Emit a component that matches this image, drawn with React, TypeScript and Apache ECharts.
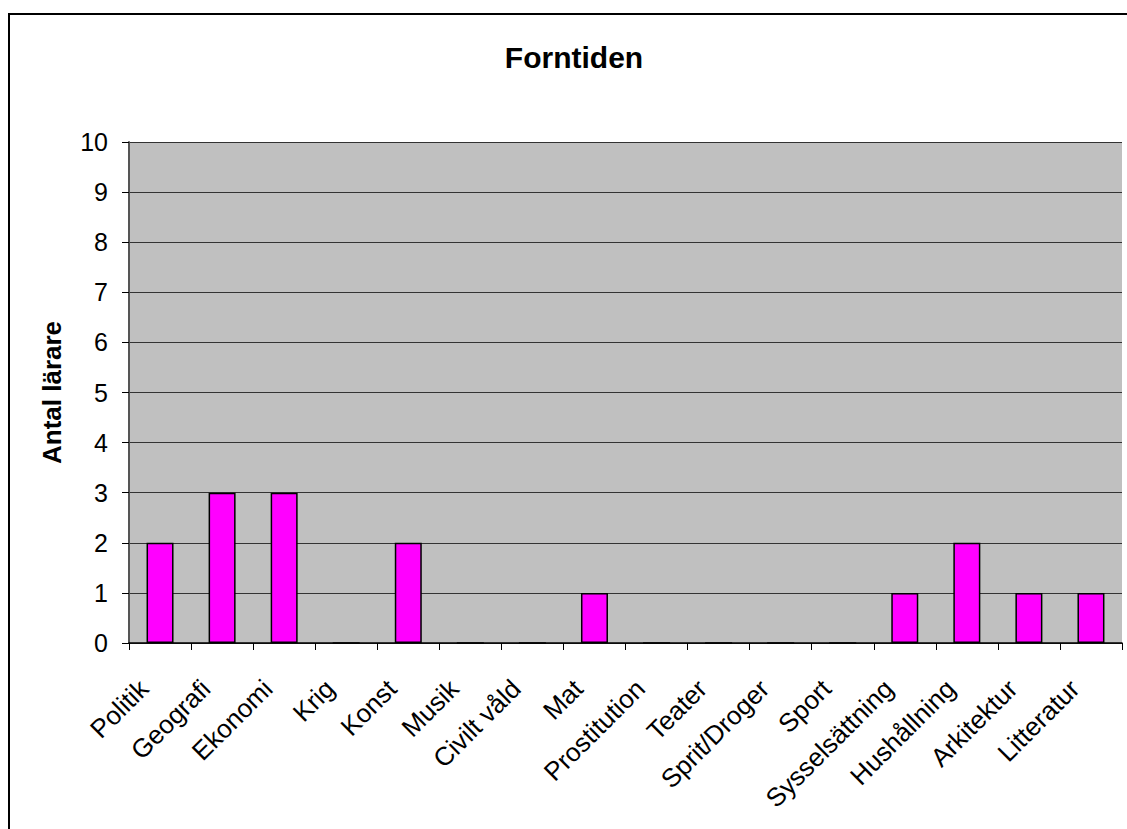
import React, { useEffect, useRef } from "react";
import * as echarts from "echarts";

const titleText = "Forntiden";
const yAxisName = "Antal lärare";
const categories = [
  "Politik", "Geografi", "Ekonomi", "Krig", "Konst", "Musik", "Civilt våld", "Mat",
  "Prostitution", "Teater", "Sprit/Droger", "Sport", "Sysselsättning", "Hushållning",
  "Arkitektur", "Litteratur",
];
const values = [2, 3, 3, 0, 2, 0, 0, 1, 0, 0, 0, 0, 1, 2, 1, 1];
const yMin = 0;
const yMax = 10;
const yStep = 1;

export default function App() {
  const ref = useRef<HTMLDivElement>(null);
  useEffect(() => {
    if (!ref.current) return;
    const chart = echarts.init(ref.current, null, { renderer: "svg" });
    const font = "'Liberation Sans', Arial, sans-serif";
    chart.setOption({
      animation: false,
      textStyle: { fontFamily: font },
      title: {
        text: titleText,
        left: 569,
        textAlign: "center",
        top: 37,
        textStyle: { fontFamily: font, fontSize: 30, fontWeight: "bold", color: "#000" },
      },
      grid: { left: 129, top: 142, right: 5, bottom: 186, show: true, backgroundColor: "#c0c0c0", borderWidth: 0 },
      xAxis: {
        type: "category",
        data: categories,
        axisLine: { lineStyle: { color: "#000", width: 1.5 } },
        axisTick: { show: true, length: 7, lineStyle: { color: "#000" }, alignWithLabel: false },
        axisLabel: {
          rotate: 45,
          margin: 25,
          padding: [0, 23, 0, 0],
          fontSize: 26,
          color: "#000",
          fontFamily: font,
          interval: 0,
        },
        splitLine: { show: false },
      },
      yAxis: {
        type: "value",
        min: yMin,
        max: yMax,
        interval: yStep,
        name: yAxisName,
        nameLocation: "middle",
        nameGap: 64,
        nameTextStyle: { fontSize: 26, fontWeight: "bold", color: "#000", fontFamily: font },
        axisLine: { show: true, lineStyle: { color: "#555", width: 2 } },
        axisTick: { show: true, length: 7, lineStyle: { color: "#000" } },
        axisLabel: { fontSize: 25, color: "#000", margin: 21, fontFamily: font },
        splitLine: { show: true, lineStyle: { color: "#333", width: 1 } },
      },
      series: [
        {
          type: "bar",
          data: values,
          barWidth: 27,
          itemStyle: { color: "#ff00ff", borderColor: "#000", borderWidth: 1.5 },
        },
      ],
    });
    return () => chart.dispose();
  }, []);
  return (
    <div style={{ position: "fixed", left: 0, top: 0, width: 1127, height: 829, background: "#fff", overflow: "hidden" }}>
      <div
        style={{
          position: "absolute",
          left: 8,
          top: 13,
          width: 1200,
          height: 900,
          borderLeft: "2px solid #000",
          borderTop: "2px solid #000",
        }}
      />
      <div ref={ref} style={{ position: "absolute", left: 0, top: 0, width: 1127, height: 829 }} />
    </div>
  );
}
